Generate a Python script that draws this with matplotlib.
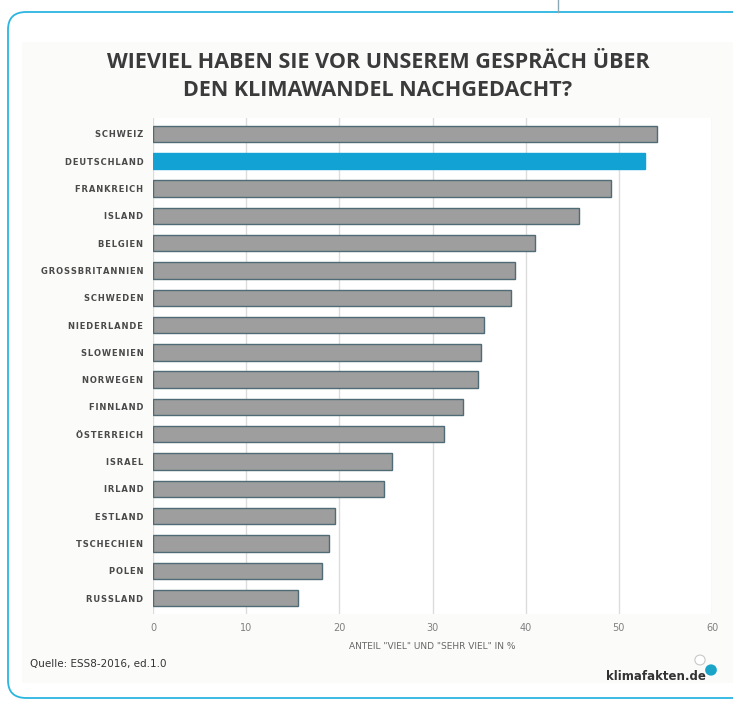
import numpy as np
import matplotlib
matplotlib.use('Agg')
import matplotlib.pyplot as plt
from matplotlib.patches import FancyBboxPatch, Rectangle, Circle

# data
countries = ['SCHWEIZ', 'DEUTSCHLAND', 'FRANKREICH', 'ISLAND', 'BELGIEN',
             'GROSSBRITANNIEN', 'SCHWEDEN', 'NIEDERLANDE', 'SLOWENIEN',
             'NORWEGEN', 'FINNLAND', 'ÖSTERREICH', 'ISRAEL', 'IRLAND',
             'ESTLAND', 'TSCHECHIEN', 'POLEN', 'RUSSLAND']
values = [54.1, 52.8, 49.2, 45.7, 41.0, 38.9, 38.4, 35.5, 35.2,
          34.9, 33.3, 31.2, 25.7, 24.8, 19.5, 18.9, 18.1, 15.6]
highlight = 'DEUTSCHLAND'
x_ticks = [0, 10, 20, 30, 40, 50, 60]

title = 'WIEVIEL HABEN SIE VOR UNSEREM GESPRÄCH ÜBER\nDEN KLIMAWANDEL NACHGEDACHT?'
xlabel = 'ANTEIL "VIEL" UND "SEHR VIEL" IN %'
source = 'Quelle: ESS8-2016, ed.1.0'

gray = '#9e9e9e'
blue = '#12a2d3'
edge = '#4e6b76'

fig = plt.figure(figsize=(7.33, 7.04), dpi=100)
fig.patch.set_facecolor('white')

# frame decoration
W, H = 733, 704
def fx(px):
    return px / W
def fy(py):
    return 1 - py / H

panel = Rectangle((fx(22), fy(683)), fx(733) - fx(22), fy(42) - fy(683),
                  transform=fig.transFigure, facecolor='#fbfbfa', edgecolor='none', zorder=-2)
fig.patches.append(panel)
border = FancyBboxPatch((fx(8), fy(698)), fx(760) - fx(8), fy(12) - fy(698),
                        boxstyle='round,pad=0,rounding_size=0.025',
                        transform=fig.transFigure, facecolor='none',
                        edgecolor='#2bb5e0', linewidth=1.3, zorder=1)
fig.patches.append(border)
fig.add_artist(plt.Line2D([fx(558), fx(558)], [fy(0), fy(12)], transform=fig.transFigure,
                          color='#8aa9b5', linewidth=1))

ax = fig.add_axes([fx(153), fy(614.4), fx(712) - fx(153), fy(117.6) - fy(614.4)])
ax.set_facecolor('white')

y = np.arange(len(countries))
colors = [blue if c == highlight else gray for c in countries]
edges = [blue if c == highlight else edge for c in countries]
ax.barh(y, values, height=0.6, color=colors, edgecolor=edges, linewidth=1, zorder=3)

ax.set_xlim(0, 60)
ax.set_ylim(17.6, -0.6)
ax.set_xticks(x_ticks)
ax.set_xticklabels([str(t) for t in x_ticks], color='#808080', fontsize=7)
ax.set_yticks(y)
ax.set_yticklabels(['\u200a'.join(c) for c in countries], color='#4a4a4a', fontsize=6,
                   fontweight='bold')
ax.tick_params(axis='both', length=0)
ax.tick_params(axis='y', pad=7)
ax.tick_params(axis='x', pad=6)
ax.grid(axis='x', color='#dcdcdc', linewidth=1, zorder=0)
for s in ax.spines.values():
    s.set_visible(False)
ax.set_xlabel(xlabel, fontsize=6.5, color='#666666', labelpad=7)

fig.text(fx(378), fy(62), title.split('\n')[0], ha='center', va='center',
         fontsize=15.5, fontweight='bold', color='#3b3b3b', family='Open Sans')
fig.text(fx(378), fy(90), title.split('\n')[1], ha='center', va='center',
         fontsize=15.5, fontweight='bold', color='#3b3b3b', family='Open Sans')

fig.text(fx(30), fy(664), source, ha='left', va='center', fontsize=7.5, color='#333333')
fig.text(fx(706), fy(676), 'klimafakten.de', ha='right', va='center', fontsize=8.5,
         fontweight='bold', color='#333333')
fig.add_artist(Circle((fx(711), fy(670)), 0.008, transform=fig.transFigure,
                      facecolor='#1aa5c8', edgecolor='none'))
fig.add_artist(Circle((fx(700), fy(660)), 0.007, transform=fig.transFigure,
                      facecolor='white', edgecolor='#c8c8c8', linewidth=0.8))

plt.savefig('out.png', dpi=100)
